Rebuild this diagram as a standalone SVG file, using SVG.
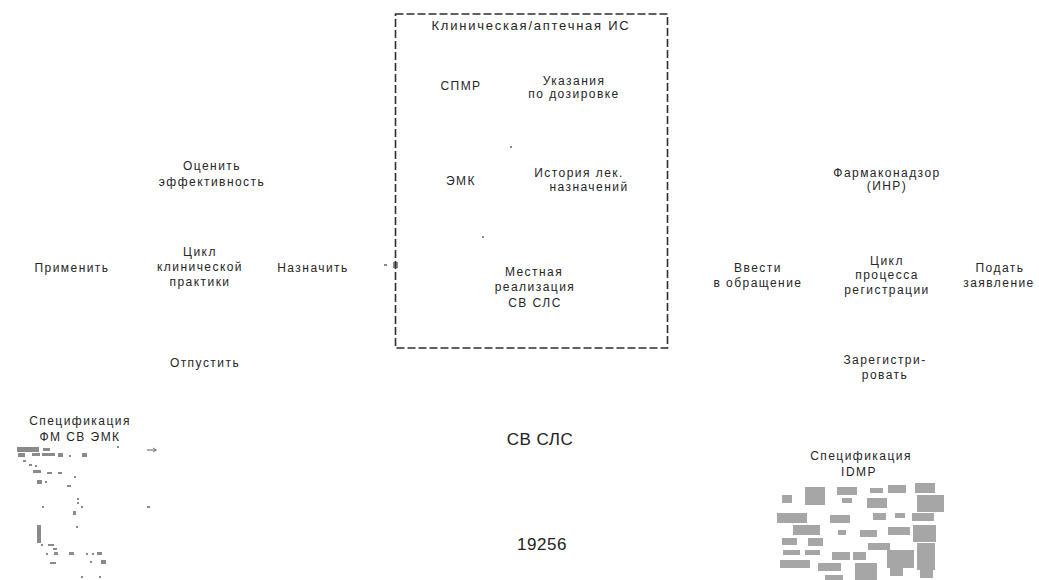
<svg xmlns="http://www.w3.org/2000/svg" width="1039" height="580" viewBox="0 0 1039 580">
<style>
  text { font-family: "Liberation Sans", Arial, sans-serif; font-size: 12px; fill: #262626; text-anchor: middle; letter-spacing: 1.45px; }
  .big { font-size: 17px; letter-spacing: 0.5px; fill: #222; }
  .title { font-size: 13px; letter-spacing: 1.75px; }
  .frame { fill: none; stroke: #2e2e2e; stroke-width: 1.6; stroke-dasharray: 8 3; }
  .blk { fill: #a6a6a6; }
  .mk { fill: #8a8a8a; }
</style>
<rect width="1039" height="580" fill="#fff"/>

<g id="connectors">
  <rect x="384" y="264" width="3" height="2" class="mk"/>
  <rect x="393" y="262" width="5" height="6" class="mk"/>
  <path d="M147 450 H156" stroke="#777" stroke-width="1.2"/>
  <path d="M153 448 L156.5 450 L153 452" fill="none" stroke="#777" stroke-width="1"/>
</g>

<g id="is-box">
  <rect x="395.5" y="14" width="272" height="334" class="frame"/>
  <text class="title" x="531" y="30">Клиническая/аптечная ИС</text>
</g>
<g id="spmr"><text x="461" y="90">СПМР</text></g>
<g id="dosage"><text x="574" y="85">Указания</text><text x="574" y="98">по дозировке</text></g>
<g id="emk"><text x="461" y="185">ЭМК</text></g>
<g id="history"><text x="579" y="177">История лек.</text><text x="589" y="191">назначений</text></g>
<g id="local"><text x="534" y="276">Местная</text><text x="535" y="291">реализация</text><text x="535" y="307">СВ СЛС</text></g>
<rect x="510" y="146" width="2" height="2" class="mk"/>
<rect x="482" y="236" width="2" height="2" class="mk"/>

<g id="evaluate"><text x="212" y="170">Оценить</text><text x="212" y="186">эффективность</text></g>
<g id="apply"><text x="72" y="272">Применить</text></g>
<g id="clin-cycle"><text x="200" y="256">Цикл</text><text x="200" y="271">клинической</text><text x="200" y="286">практики</text></g>
<g id="prescribe"><text x="313" y="272">Назначить</text></g>
<g id="dispense"><text x="205" y="367">Отпустить</text></g>

<g id="pharmacovig"><text x="887" y="177">Фармаконадзор</text><text x="887" y="190">(ИНР)</text></g>
<g id="market"><text x="758" y="272">Ввести</text><text x="758" y="287">в обращение</text></g>
<g id="reg-cycle"><text x="887" y="265">Цикл</text><text x="887" y="279">процесса</text><text x="887" y="294">регистрации</text></g>
<g id="submit"><text x="1000" y="272">Подать</text><text x="999" y="287">заявление</text></g>
<g id="register"><text x="885" y="364">Зарегистри-</text><text x="885" y="379">ровать</text></g>

<g id="spec-emk">
  <text x="80" y="425">Спецификация</text><text x="80" y="441">ФМ СВ ЭМК</text>
  <rect x="17" y="447" width="22" height="5" class="mk"/>
  <rect x="43" y="448" width="7" height="3" class="mk"/>
  <rect x="18" y="453" width="7" height="4" class="mk"/>
  <rect x="32" y="453" width="8" height="3" class="mk"/>
  <rect x="42" y="453" width="13" height="3" class="mk"/>
  <rect x="58" y="453" width="5" height="4" class="mk"/>
  <rect x="69" y="455" width="2" height="2" class="mk"/>
  <rect x="82" y="453" width="5" height="4" class="mk"/>
  <rect x="117" y="446" width="2" height="2" class="mk"/>
  <rect x="23" y="460" width="3" height="2" class="mk"/>
  <rect x="29" y="464" width="3" height="2" class="mk"/>
  <rect x="35" y="465" width="2" height="2" class="mk"/>
  <rect x="33" y="470" width="8" height="3" class="mk"/>
  <rect x="47" y="472" width="5" height="2" class="mk"/>
  <rect x="58" y="472" width="4" height="2" class="mk"/>
  <rect x="37" y="480" width="5" height="4" class="mk"/>
  <rect x="45" y="481" width="2" height="2" class="mk"/>
  <rect x="74" y="476" width="2" height="2" class="mk"/>
  <rect x="67" y="485" width="4" height="2" class="mk"/>
  <rect x="77" y="498" width="2" height="2" class="mk"/>
  <rect x="77" y="502" width="2" height="2" class="mk"/>
  <rect x="42" y="506" width="2" height="2" class="mk"/>
  <rect x="81" y="506" width="2" height="2" class="mk"/>
  <rect x="147" y="506" width="3" height="2" class="mk"/>
  <rect x="73" y="511" width="3" height="4" class="mk"/>
  <rect x="76" y="526" width="2" height="2" class="mk"/>
  <rect x="37" y="525" width="4" height="18" class="mk"/>
  <rect x="41" y="544" width="2" height="2" class="mk"/>
  <rect x="48" y="544" width="6" height="2" class="mk"/>
  <rect x="53" y="548" width="4" height="2" class="mk"/>
  <rect x="46" y="553" width="2" height="2" class="mk"/>
  <rect x="54" y="552" width="4" height="3" class="mk"/>
  <rect x="69" y="552" width="5" height="3" class="mk"/>
  <rect x="86" y="553" width="2" height="2" class="mk"/>
  <rect x="92" y="553" width="2" height="2" class="mk"/>
  <rect x="97" y="552" width="5" height="3" class="mk"/>
  <rect x="50" y="562" width="6" height="2" class="mk"/>
  <rect x="90" y="561" width="2" height="2" class="mk"/>
  <rect x="101" y="560" width="5" height="4" class="mk"/>
  <rect x="81" y="576" width="2" height="2" class="mk"/>
  <rect x="99" y="576" width="2" height="2" class="mk"/>
</g>

<g id="spec-idmp">
  <text x="861" y="460">Спецификация</text><text x="859" y="476">IDMP</text>
  <rect x="782" y="495" width="10" height="8" class="blk"/>
  <rect x="805" y="487" width="20" height="18" class="blk"/>
  <rect x="837" y="487" width="20" height="8" class="blk"/>
  <rect x="842" y="498" width="10" height="5" class="blk"/>
  <rect x="870" y="488" width="13" height="5" class="blk"/>
  <rect x="888" y="485" width="18" height="8" class="blk"/>
  <rect x="915" y="483" width="20" height="10" class="blk"/>
  <rect x="867" y="498" width="20" height="10" class="blk"/>
  <rect x="917" y="495" width="27" height="17" class="blk"/>
  <rect x="777" y="513" width="30" height="10" class="blk"/>
  <rect x="793" y="525" width="27" height="10" class="blk"/>
  <rect x="830" y="515" width="20" height="8" class="blk"/>
  <rect x="873" y="513" width="13" height="7" class="blk"/>
  <rect x="895" y="513" width="10" height="5" class="blk"/>
  <rect x="912" y="513" width="22" height="8" class="blk"/>
  <rect x="838" y="530" width="8" height="5" class="blk"/>
  <rect x="860" y="530" width="17" height="7" class="blk"/>
  <rect x="888" y="527" width="22" height="8" class="blk"/>
  <rect x="913" y="525" width="23" height="17" class="blk"/>
  <rect x="782" y="538" width="15" height="7" class="blk"/>
  <rect x="808" y="538" width="15" height="8" class="blk"/>
  <rect x="783" y="550" width="17" height="5" class="blk"/>
  <rect x="805" y="550" width="15" height="5" class="blk"/>
  <rect x="832" y="552" width="18" height="8" class="blk"/>
  <rect x="853" y="552" width="13" height="8" class="blk"/>
  <rect x="868" y="543" width="22" height="7" class="blk"/>
  <rect x="887" y="550" width="27" height="18" class="blk"/>
  <rect x="917" y="543" width="18" height="27" class="blk"/>
  <rect x="780" y="560" width="30" height="8" class="blk"/>
  <rect x="818" y="563" width="23" height="8" class="blk"/>
  <rect x="855" y="563" width="22" height="17" class="blk"/>
  <rect x="890" y="568" width="13" height="8" class="blk"/>
  <rect x="920" y="568" width="13" height="10" class="blk"/>
  <rect x="825" y="575" width="18" height="5" class="blk"/>
</g>

<g id="sv-sls"><text class="big" x="540" y="445">СВ СЛС</text></g>
<g id="number"><text class="big" x="542" y="550">19256</text></g>
</svg>
